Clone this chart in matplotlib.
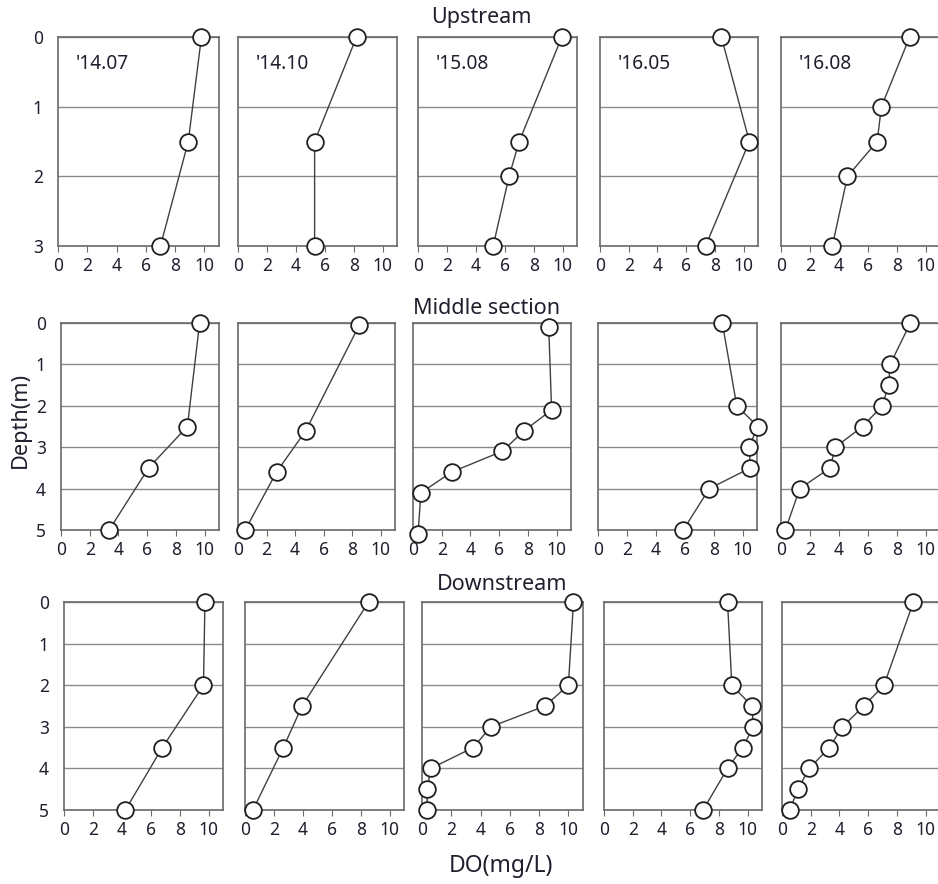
import matplotlib.pyplot as plt

plt.rcParams['font.family'] = ['Noto Sans', 'DejaVu Sans']

months = ["'14.07", "'14.10", "'15.08", "'16.05", "'16.08"]
sections = ["Upstream", "Middle section", "Downstream"]
max_depth = [3, 5, 5]

# Upstream
up_depth = [[0, 1.5, 3],
            [0, 1.5, 3],
            [0, 1.5, 2, 3],
            [0, 1.5, 3],
            [0, 1, 1.5, 2, 3]]
up_do = [[9.8, 8.9, 7.0],
         [8.2, 5.3, 5.3],
         [9.95, 7.0, 6.3, 5.2],
         [8.45, 10.4, 7.35],
         [8.9, 6.95, 6.65, 4.6, 3.55]]

# Middle section
mid_depth = [[0, 2.5, 3.5, 5],
             [0.05, 2.6, 3.6, 5],
             [0.1, 2.1, 2.6, 3.1, 3.6, 4.1, 5.1],
             [0, 2, 2.5, 3, 3.5, 4, 5],
             [0, 1, 1.5, 2, 2.5, 3, 3.5, 4, 5]]
mid_do = [[9.65, 8.8, 6.1, 3.35],
          [8.5, 4.75, 2.7, 0.5],
          [9.45, 9.65, 7.75, 6.2, 2.7, 0.55, 0.35],
          [8.6, 9.6, 11.05, 10.45, 10.55, 7.7, 5.9],
          [8.95, 7.55, 7.45, 7.0, 5.65, 3.75, 3.4, 1.3, 0.3]]

# Downstream
down_depth = [[0, 2, 3.5, 5],
              [0, 2.5, 3.5, 5],
              [0, 2, 2.5, 3, 3.5, 4, 4.5, 5],
              [0, 2, 2.5, 3, 3.5, 4, 5],
              [0, 2, 2.5, 3, 3.5, 4, 4.5, 5]]
down_do = [[9.75, 9.65, 6.8, 4.25],
           [8.55, 3.95, 2.65, 0.55],
           [10.35, 10.0, 8.4, 4.7, 3.5, 0.6, 0.35, 0.35],
           [8.6, 8.9, 10.3, 10.4, 9.65, 8.6, 6.9],
           [9.15, 7.1, 5.7, 4.2, 3.3, 1.9, 1.1, 0.55]]

all_depth = [up_depth, mid_depth, down_depth]
all_do = [up_do, mid_do, down_do]

W, H = 938, 884
fig = plt.figure(figsize=(W / 100, H / 100), dpi=100)

# panel boxes in pixels: lefts / rights per row, top / bottom per row
lefts = [[58, 238, 418, 600, 781],
         [61, 238, 413, 598, 781],
         [64, 245, 422, 604, 782]]
rights = [[219, 397, 577, 758, 940],
          [219, 395, 571, 757, 940],
          [223, 404, 583, 762, 940]]
tops = [37, 323, 602]
bottoms = [246, 530, 810]
title_x = [481, 487, 502]
title_y = [18, 308, 585]

txt = '#1f1f2e'
edge = '#6a6a6a'

for r in range(3):
    for c in range(5):
        l, rr, t, b = lefts[r][c], rights[r][c], tops[r], bottoms[r]
        ax = fig.add_axes([l / W, 1 - b / H, (rr - l) / W, (b - t) / H])
        ax.plot(all_do[r][c], all_depth[r][c], '-', color='#404040', lw=1.0,
                marker='o', ms=12, mfc='white', mec='#202020', mew=1.3,
                clip_on=False, zorder=3)
        ax.set_xlim(0, 11)
        ax.set_ylim(max_depth[r], 0)
        ax.set_xticks(range(0, 11, 2))
        ax.set_yticks(range(0, max_depth[r] + 1))
        ax.yaxis.grid(True, color='#8a8a8a', lw=1.0)
        ax.set_axisbelow(True)
        for s in ax.spines.values():
            s.set_color(edge)
            s.set_linewidth(1.2)
        ax.tick_params(axis='x', direction='out', length=4, color=edge,
                       labelsize=12.5, labelcolor=txt, pad=4)
        ax.tick_params(axis='y', length=0, labelsize=12.5, labelcolor=txt, pad=11)
        if c > 0:
            ax.set_yticklabels([])
        if r == 0:
            ax.text(0.11, 0.87, months[c], transform=ax.transAxes,
                    fontsize=13.8, color=txt, ha='left', va='center')
    fig.text(title_x[r] / W, 1 - title_y[r] / H, sections[r], fontsize=15.5,
             color=txt, ha='center', va='center')

fig.text(20 / W, 1 - 420 / H, 'Depth(m)', rotation=90, fontsize=15.6,
         color=txt, ha='center', va='center')
fig.text(501 / W, 1 - 866 / H, 'DO(mg/L)', fontsize=16.5,
         color=txt, ha='center', va='center')

fig.savefig('out.png', dpi=100)
